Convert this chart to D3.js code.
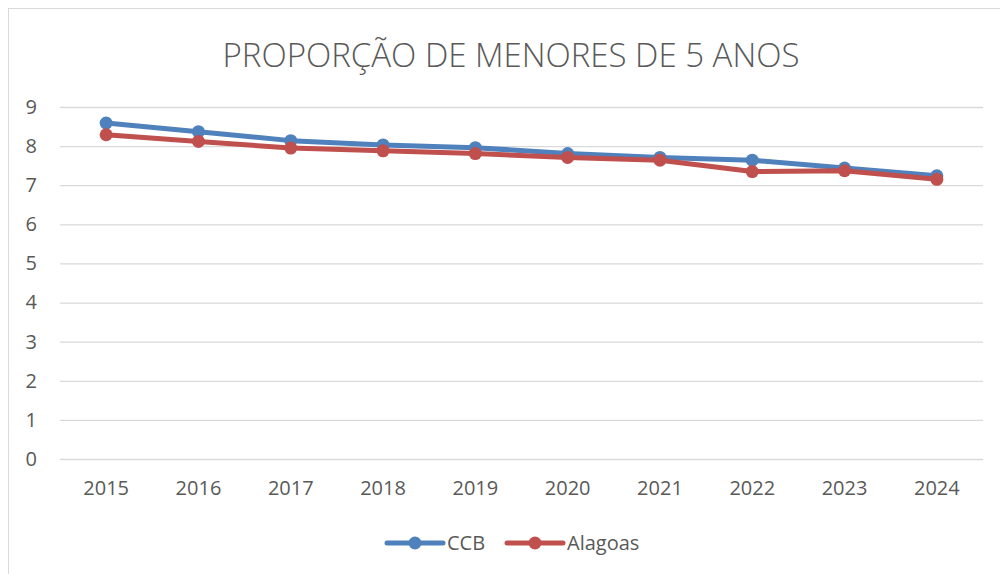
<!DOCTYPE html>
<html>
<head>
<meta charset="utf-8">
<script src="https://cdn.jsdelivr.net/npm/d3@7"></script>
<style>
  body { margin: 0; background: #fff; }
  text { font-family: "Open Sans", sans-serif; fill: #595959; }
</style>
</head>
<body>
<svg id="chart" width="1000" height="574"></svg>
<script>
var years = ["2015", "2016", "2017", "2018", "2019", "2020", "2021", "2022", "2023", "2024"];
var ccb = [8.59, 8.37, 8.14, 8.03, 7.96, 7.81, 7.71, 7.64, 7.44, 7.24];
var alagoas = [8.29, 8.12, 7.95, 7.88, 7.81, 7.71, 7.64, 7.35, 7.37, 7.15];
var yTicks = [0, 1, 2, 3, 4, 5, 6, 7, 8, 9];
var seriesNames = ["CCB", "Alagoas"];
var colors = ["#4F81BD", "#C0504D"];

var svg = d3.select("#chart"),
  margin = {top: 107, right: 17, bottom: 115, left: 60},
  width = +svg.attr("width") - margin.left - margin.right,
  height = +svg.attr("height") - margin.top - margin.bottom;

// chart frame
svg.append("rect")
  .attr("x", 8.5).attr("y", 8.5)
  .attr("width", 1000).attr("height", 600)
  .attr("fill", "#fff")
  .attr("stroke", "#D9D9D9");

svg.append("text")
  .attr("x", 511).attr("y", 67)
  .attr("text-anchor", "middle")
  .attr("font-size", 33)
  .attr("font-weight", 300)
  .text("PROPORÇÃO DE MENORES DE 5 ANOS");

var g = svg.append("g").attr("transform", "translate(" + margin.left + "," + margin.top + ")");

var x = d3.scaleBand().domain(years).range([0, width]);
var y = d3.scaleLinear().domain([0, 9]).range([height, 0]);

// gridlines
g.append("g")
  .attr("class", "grid")
  .call(d3.axisLeft(y).tickValues(yTicks).tickSize(-width).tickFormat(""))
  .call(function(s) {
    s.select(".domain").remove();
    s.selectAll("line").attr("stroke", "#D9D9D9").attr("stroke-width", 1.3);
  });

g.append("g")
  .call(d3.axisLeft(y).tickValues(yTicks).tickSize(0).tickPadding(23))
  .call(function(s) {
    s.select(".domain").remove();
    s.selectAll("text").attr("font-size", 20).style("font-family", "Open Sans, sans-serif").attr("fill", "#595959");
  });

g.append("g")
  .attr("transform", "translate(0," + height + ")")
  .call(d3.axisBottom(x).tickSize(0).tickPadding(22))
  .call(function(s) {
    s.select(".domain").remove();
    s.selectAll("text").attr("font-size", 20).style("font-family", "Open Sans, sans-serif").attr("fill", "#595959");
  });

var line = d3.line()
  .x(function(d, i) { return x(years[i]) + x.bandwidth() / 2; })
  .y(function(d) { return y(d); });

[ccb, alagoas].forEach(function(vals, k) {
  g.append("path")
    .datum(vals)
    .attr("fill", "none")
    .attr("stroke", colors[k])
    .attr("stroke-width", 5)
    .attr("stroke-linejoin", "round")
    .attr("stroke-linecap", "round")
    .attr("d", line);
  g.selectAll(".pt" + k)
    .data(vals)
    .enter().append("circle")
    .attr("class", "pt" + k)
    .attr("cx", function(d, i) { return x(years[i]) + x.bandwidth() / 2; })
    .attr("cy", function(d) { return y(d); })
    .attr("r", 6.5)
    .attr("fill", colors[k]);
});

// legend
var legendX = [387, 507];
var legend = svg.append("g")
  .selectAll("g")
  .data(seriesNames)
  .enter().append("g")
  .attr("transform", function(d, i) { return "translate(" + legendX[i] + ",543)"; });

legend.append("line")
  .attr("x1", 0).attr("x2", 56)
  .attr("stroke", function(d, i) { return colors[i]; })
  .attr("stroke-width", 5)
  .attr("stroke-linecap", "round");

legend.append("circle")
  .attr("cx", 28).attr("r", 6.5)
  .attr("fill", function(d, i) { return colors[i]; });

legend.append("text")
  .attr("x", 60)
  .attr("dy", "0.36em")
  .attr("font-size", 20)
  .text(function(d) { return d; });
</script>
</body>
</html>
